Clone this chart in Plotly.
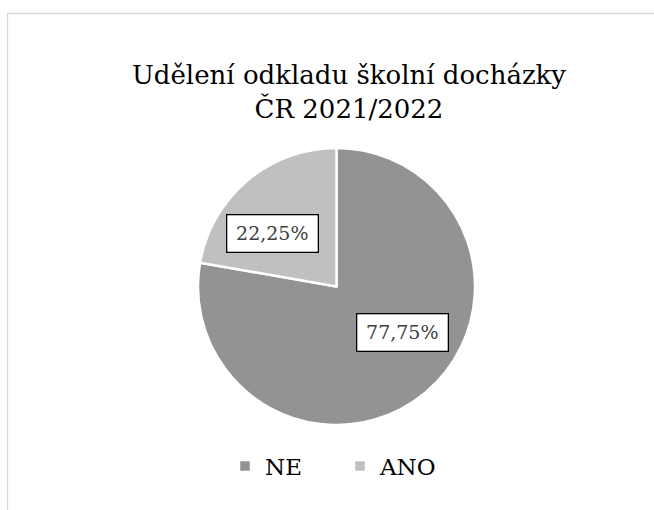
import plotly.graph_objects as go

categories = ["NE", "ANO"]
values = [77.75, 22.25]
colors = ["#939393", "#c0c0c0"]
title_lines = ["Udělení odkladu školní docházky", "ČR 2021/2022"]
label_pos = [(0.6147, 0.349), (0.4174, 0.5412)]  # paper coords of data-label boxes

W, H = 654, 510
SERIF = "DejaVu Serif"

fig = go.Figure()
fig.add_trace(go.Pie(
    labels=categories, values=values, sort=False, direction="clockwise", rotation=0,
    marker=dict(colors=colors, line=dict(color="white", width=2.5)),
    textinfo="none", hoverinfo="label+percent",
    domain=dict(x=[198 / W, 475 / W], y=[85 / H, 362 / H]),
))

total = sum(values)
for v, (px, py) in zip(values, label_pos):
    fig.add_annotation(
        x=px, y=py, xref="paper", yref="paper", showarrow=False,
        text=f"{v / total * 100:.2f}%".replace(".", ","),
        font=dict(family=SERIF, size=19, color="#404040"),
        width=82, height=28,
        bgcolor="white", bordercolor="black", borderwidth=1.3, borderpad=4,
    )

fig.add_shape(type="rect", xref="paper", yref="paper",
              x0=7.5 / W, x1=1.2, y0=-0.2, y1=1 - 13.5 / H,
              line=dict(color="#d9d9d9", width=1.3), fillcolor="rgba(0,0,0,0)")

fig.update_layout(
    width=W, height=H, margin=dict(l=0, r=0, t=0, b=0),
    paper_bgcolor="white", plot_bgcolor="white",
    title=dict(text="<br>".join(title_lines), x=349 / W, xanchor="center",
               y=1 - 84 / H, yanchor="middle",
               font=dict(family=SERIF, size=26, color="black")),
    legend=dict(orientation="h", x=340 / W, xanchor="center", y=44 / H, yanchor="middle",
                font=dict(family=SERIF, size=23, color="black"),
                itemwidth=30, entrywidth=70, tracegroupgap=0),
    showlegend=True,
)

fig.write_html("out.html", post_script="document.body.style.margin='0';",
               config={"displayModeBar": False})
